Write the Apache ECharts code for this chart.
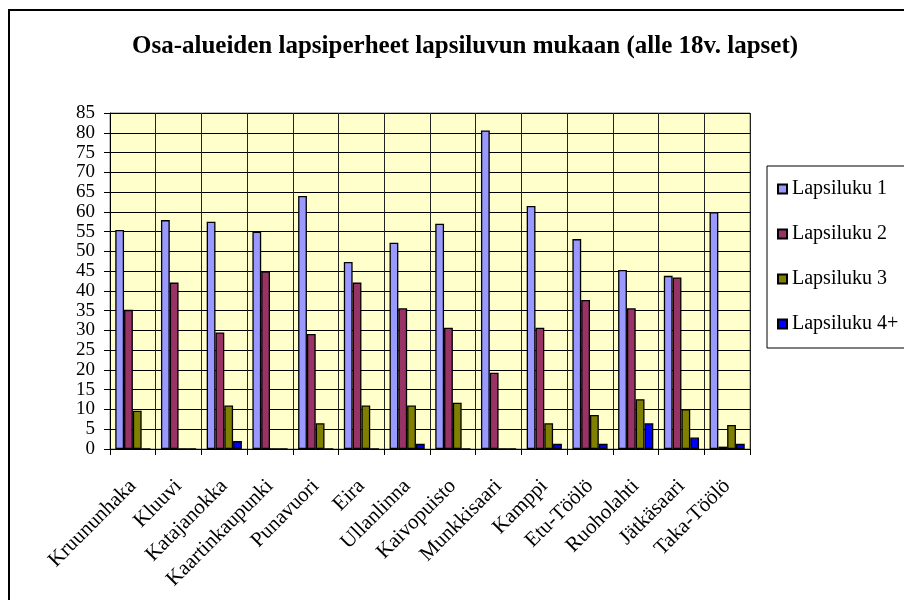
<!DOCTYPE html>
<html>
<head>
<meta charset="utf-8">
<script src="https://cdn.jsdelivr.net/npm/echarts@6/dist/echarts.min.js"></script>
<style>html,body{margin:0;padding:0;background:#fff;}#c{width:904px;height:600px;}</style>
</head>
<body>
<div id="c"></div>
<script>
var titleText = 'Osa-alueiden lapsiperheet lapsiluvun mukaan (alle 18v. lapset)';
var categories = ['Kruununhaka','Kluuvi','Katajanokka','Kaartinkaupunki','Punavuori','Eira','Ullanlinna','Kaivopuisto','Munkkisaari','Kamppi','Etu-Töölö','Ruoholahti','Jätkäsaari','Taka-Töölö'];
var seriesNames = ['Lapsiluku 1','Lapsiluku 2','Lapsiluku 3','Lapsiluku 4+'];
var lapsiluku1 = [55.4, 57.9, 57.5, 55.0, 64.0, 47.3, 52.2, 57.0, 80.6, 61.5, 53.1, 45.3, 43.8, 59.9];
var lapsiluku2 = [35.2, 42.1, 29.5, 44.9, 29.1, 42.1, 35.6, 30.7, 19.3, 30.7, 37.7, 35.6, 43.4, 0.6];
var lapsiluku3 = [9.7, 0, 11.0, 0, 6.5, 11.0, 11.0, 11.7, 0, 6.5, 8.6, 12.6, 10.1, 6.1];
var lapsiluku4 = [0, 0, 2.0, 0, 0, 0, 1.3, 0, 0, 1.3, 1.3, 6.5, 2.9, 1.3];
var colors = ['#9999FF', '#993366', '#808000', '#0000FF'];

var serif = '"Liberation Serif", "Times New Roman", serif';
var allData = [lapsiluku1, lapsiluku2, lapsiluku3, lapsiluku4];
var chart = echarts.init(document.getElementById('c'), null, {renderer: 'canvas'});
chart.setOption({
  animation: false,
  backgroundColor: '#fff',
  textStyle: {fontFamily: serif},
  title: {
    text: titleText,
    left: 460, textAlign: 'center', top: 29,
    textStyle: {fontFamily: serif, fontWeight: 'bold', fontSize: 25, color: '#000'}
  },
  graphic: [{
    type: 'rect', z: 100, silent: true,
    shape: {x: 9, y: 10, width: 1000, height: 1000},
    style: {fill: 'none', stroke: '#000', lineWidth: 2}
  }],
  legend: {
    orient: 'vertical',
    left: 767, top: 166,
    padding: [13, 40, 14, 10],
    itemGap: 25,
    itemWidth: 9, itemHeight: 9,
    borderColor: '#000', borderWidth: 1,
    backgroundColor: '#fff',
    textStyle: {fontFamily: serif, fontSize: 20, color: '#000'},
    icon: 'rect',
    data: seriesNames
  },
  grid: {
    left: 110, right: 154, top: 113, bottom: 151,
    show: true, backgroundColor: '#FFFFCC', borderColor: '#808080', borderWidth: 1
  },
  xAxis: {
    type: 'category',
    data: categories,
    boundaryGap: true,
    axisLine: {lineStyle: {color: '#000', width: 1}},
    axisTick: {show: true, length: 6, lineStyle: {color: '#000'}},
    axisLabel: {rotate: 45, margin: 34, fontFamily: serif, fontSize: 21, color: '#000', interval: 0},
    splitLine: {show: true, lineStyle: {color: '#222', width: 1}}
  },
  yAxis: {
    type: 'value',
    min: 0, max: 85, interval: 5,
    axisLine: {show: true, lineStyle: {color: '#000', width: 1}},
    axisTick: {show: true, length: 6, lineStyle: {color: '#000'}},
    axisLabel: {margin: 15, fontFamily: serif, fontSize: 19, color: '#000'},
    splitLine: {show: true, lineStyle: {color: '#000', width: 1}}
  },
  series: seriesNames.map(function (n, i) {
    return {
      name: n, type: 'bar',
      data: allData[i],
      barGap: '0%', barCategoryGap: '23%',
      itemStyle: {color: colors[i], borderColor: '#000', borderWidth: 1.3}
    };
  })
});
</script>
</body>
</html>
